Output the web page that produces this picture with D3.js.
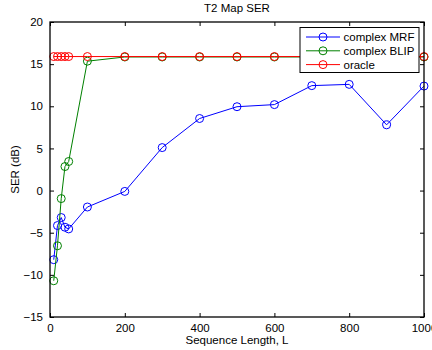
<!DOCTYPE html>
<html>
<head>
<meta charset="utf-8">
<script src="https://cdn.jsdelivr.net/npm/d3@7"></script>
<style>
body { margin: 0; background: #fff; }
text { font-family: "Liberation Sans", Arial, sans-serif; }
</style>
</head>
<body>
<svg width="432" height="350"></svg>
<script>
// data
var lengths = [10, 20, 30, 40, 50, 100, 200, 300, 400, 500, 600, 700, 800, 900, 1000];
var mrf = [-8.2, -4.15, -3.2, -4.35, -4.55, -1.95, -0.1, 5.1, 8.55, 9.95, 10.2, 12.45, 12.6, 7.8, 12.4];
var blip = [-10.7, -6.55, -0.95, 2.85, 3.45, 15.35, 15.85, 15.85, 15.85, 15.85, 15.85, 15.85, 15.85, 15.85, 15.85];
var oracle = [15.9, 15.9, 15.9, 15.9, 15.9, 15.9, 15.9, 15.9, 15.9, 15.9, 15.9, 15.9, 15.9, 15.9, 15.9];
var seriesNames = ["complex MRF", "complex BLIP", "oracle"];
var seriesColors = ["#0000ff", "#008000", "#ff0000"];
var xTicks = [0, 200, 400, 600, 800, 1000];
var yTicks = [-15, -10, -5, 0, 5, 10, 15, 20];

var plotLeft = 50, plotRight = 424, plotTop = 22, plotBottom = 317;
var fontSize = 11.5;

var svg = d3.select("svg");

var xScale = d3.scaleLinear().domain([0, 1000]).range([plotLeft, plotRight]);
var yScale = d3.scaleLinear().domain([-15, 20]).range([plotBottom, plotTop]);

// axes, ticks inside, on all four sides
var xAxis = d3.axisBottom(xScale).tickValues(xTicks).tickSizeInner(-4).tickSizeOuter(0).tickPadding(7)
	.tickFormat(d3.format("d"));
var xTop = d3.axisTop(xScale).tickValues(xTicks).tickSizeInner(-4).tickSizeOuter(0).tickFormat("");
var yAxis = d3.axisLeft(yScale).tickValues(yTicks).tickSizeInner(-4).tickSizeOuter(0).tickPadding(7)
	.tickFormat(function(d){ return d < 0 ? "\u2212" + Math.abs(d) : d; });
var yRight = d3.axisRight(yScale).tickValues(yTicks).tickSizeInner(-4).tickSizeOuter(0).tickFormat("");

function styleAxis(g){
	g.select(".domain").remove();
	g.selectAll("line").attr("stroke", "#000");
	g.selectAll("text").attr("fill", "#000").style("font-size", fontSize + "px");
}

svg.append("g").attr("transform", "translate(0," + plotBottom + ")").call(xAxis).call(styleAxis);
svg.append("g").attr("transform", "translate(0," + plotTop + ")").call(xTop).call(styleAxis);
svg.append("g").attr("transform", "translate(" + plotLeft + ",0)").call(yAxis).call(styleAxis);
svg.append("g").attr("transform", "translate(" + plotRight + ",0)").call(yRight).call(styleAxis);

// series
var allSeries = [mrf, blip, oracle];
var line = d3.line()
	.x(function(d){ return xScale(d[0]); })
	.y(function(d){ return yScale(d[1]); });

allSeries.forEach(function(vals, i){
	var pts = lengths.map(function(x, j){ return [x, vals[j]]; });
	var g = svg.append("g");
	g.append("path")
		.datum(pts)
		.attr("d", line)
		.attr("fill", "none")
		.attr("stroke", seriesColors[i])
		.attr("stroke-width", 1);
	g.selectAll("circle")
		.data(pts)
		.enter().append("circle")
		.attr("cx", function(d){ return xScale(d[0]); })
		.attr("cy", function(d){ return yScale(d[1]); })
		.attr("r", 4)
		.attr("fill", "none")
		.attr("stroke", seriesColors[i])
		.attr("stroke-width", 1);
});

// frame
svg.append("rect")
	.attr("x", plotLeft).attr("y", plotTop)
	.attr("width", plotRight - plotLeft).attr("height", plotBottom - plotTop)
	.attr("fill", "none").attr("stroke", "#000").attr("stroke-width", 1.3);

// legend
var legend = svg.append("g");
legend.append("rect")
	.attr("x", 300).attr("y", 27.5).attr("width", 119).attr("height", 45)
	.attr("fill", "#fff").attr("stroke", "#000").attr("stroke-width", 1);
seriesNames.forEach(function(name, i){
	var y = 37 + i * 13.8;
	legend.append("line").attr("x1", 306).attr("x2", 340).attr("y1", y).attr("y2", y)
		.attr("stroke", seriesColors[i]).attr("stroke-width", 1);
	legend.append("circle").attr("cx", 323).attr("cy", y).attr("r", 4)
		.attr("fill", "none").attr("stroke", seriesColors[i]);
	legend.append("text").attr("x", 343.5).attr("y", y + 4).text(name)
		.style("font-size", fontSize + "px");
});

// title and labels
svg.append("text").attr("x", (plotLeft + plotRight) / 2).attr("y", 12).attr("text-anchor", "middle")
	.style("font-size", fontSize + "px").text("T2 Map SER");
svg.append("text").attr("x", (plotLeft + plotRight) / 2).attr("y", 344).attr("text-anchor", "middle")
	.style("font-size", fontSize + "px").text("Sequence Length, L");
svg.append("text").attr("transform", "translate(19," + (plotTop + plotBottom) / 2 + ") rotate(-90)")
	.attr("text-anchor", "middle").style("font-size", fontSize + "px").text("SER (dB)");
</script>
</body>
</html>
